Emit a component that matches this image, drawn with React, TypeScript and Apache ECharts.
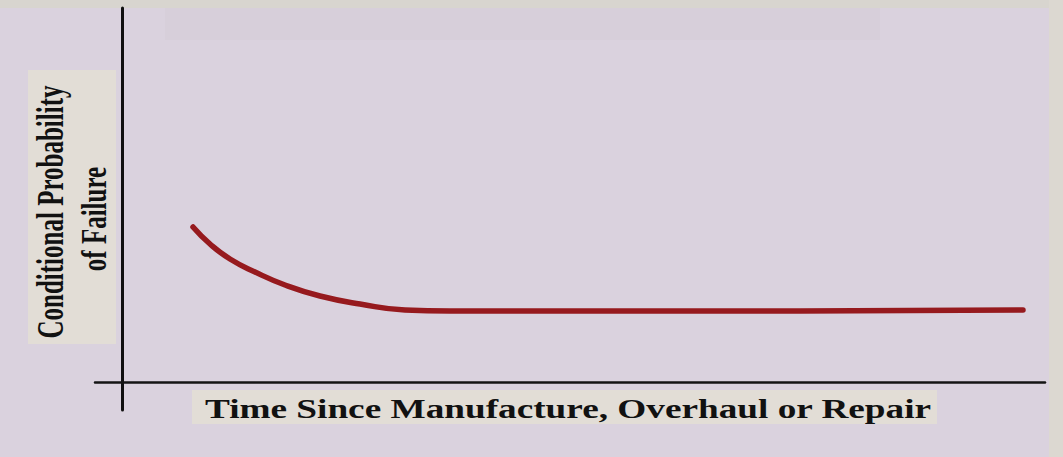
import React, { useEffect, useRef } from "react";
import * as echarts from "echarts";

// Failure pattern curve (time units vs conditional probability units)
const timeValues = [7.1, 8.8, 10.8, 13.3, 16.3, 19.8, 23.8, 28.3, 32.8, 67.8, 90.1];
const probValues = [38.75, 34.5, 30.75, 27.5, 24.25, 21.5, 19.5, 18, 17.75, 17.75, 18];
const xAxisTitle = "Time Since Manufacture, Overhaul or Repair";
const yAxisTitleLines = ["Conditional Probability", "of Failure"];

const SERIF = '"Liberation Serif", "Times New Roman", "DejaVu Serif", serif';

export default function App() {
  const ref = useRef<HTMLDivElement>(null);
  useEffect(() => {
    document.body.style.margin = "0";
    const chart = echarts.init(ref.current!, null, { renderer: "svg" });
    const data = timeValues.map((t, i) => [t, probValues[i]]);
    chart.setOption({
      animation: false,
      backgroundColor: "#dad2de",
      grid: { left: 95, right: 18, top: 8, bottom: 47 },
      xAxis: {
        type: "value",
        min: -2.7,
        max: 92.3,
        axisLine: { show: true, onZero: true, lineStyle: { color: "#141414", width: 2.5 } },
        axisTick: { show: false },
        axisLabel: { show: false },
        splitLine: { show: false },
      },
      yAxis: {
        type: "value",
        min: -7,
        max: 93.5,
        axisLine: { show: true, onZero: true, lineStyle: { color: "#101010", width: 3 } },
        axisTick: { show: false },
        axisLabel: { show: false },
        splitLine: { show: false },
      },
      graphic: [
        { type: "rect", z: -10, silent: true, shape: { x: 0, y: 0, width: 1063, height: 8 }, style: { fill: "#d8d5cf" } },
        { type: "rect", z: -10, silent: true, shape: { x: 165, y: 8, width: 715, height: 32 }, style: { fill: "#d7cfda" } },
        { type: "rect", z: -10, silent: true, shape: { x: 1049, y: 0, width: 14, height: 457 }, style: { fill: "#dcd8d1" } },
        { type: "rect", z: -5, silent: true, shape: { x: 28, y: 70, width: 88, height: 274 }, style: { fill: "#e2ddd6" } },
        { type: "rect", z: -5, silent: true, shape: { x: 192, y: 390, width: 745, height: 34 }, style: { fill: "#e2ddd6" } },
        {
          type: "text",
          z: 5,
          x: 205,
          y: 409,
          scaleX: 1.38,
          style: {
            text: xAxisTitle,
            fontFamily: SERIF,
            fontWeight: "bold",
            fontSize: 27,
            fill: "#111",
            align: "left",
            verticalAlign: "middle",
          },
        },
        {
          type: "text",
          z: 5,
          x: 51,
          y: 212,
          rotation: Math.PI / 2,
          scaleY: 1.5,
          style: {
            text: yAxisTitleLines[0],
            fontFamily: SERIF,
            fontWeight: "bold",
            fontSize: 25,
            fill: "#111",
            align: "center",
            verticalAlign: "middle",
          },
        },
        {
          type: "text",
          z: 5,
          x: 94,
          y: 219,
          rotation: Math.PI / 2,
          scaleY: 1.4,
          style: {
            text: yAxisTitleLines[1],
            fontFamily: SERIF,
            fontWeight: "bold",
            fontSize: 25,
            fill: "#111",
            align: "center",
            verticalAlign: "middle",
          },
        },
      ],
      series: [
        {
          type: "line",
          data,
          smooth: 0.5,
          showSymbol: false,
          symbol: "none",
          lineStyle: { color: "#961a1e", width: 5.5, cap: "round", join: "round" },
        },
      ],
    });
    return () => chart.dispose();
  }, []);
  return (
    <div
      ref={ref}
      style={{ position: "absolute", left: 0, top: 0, width: 1063, height: 457 }}
    />
  );
}
